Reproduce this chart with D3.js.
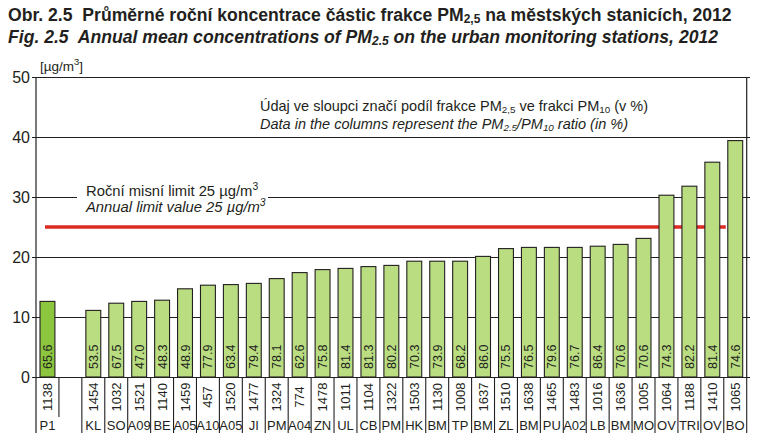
<!DOCTYPE html>
<html><head><meta charset="utf-8">
<script src="https://cdn.jsdelivr.net/npm/d3@7"></script>
<style>
html,body{margin:0;padding:0;background:#fff;}
svg{display:block;font-family:"Liberation Sans",Arial,sans-serif;}
text{white-space:pre;}
</style></head>
<body><svg id="c" width="766" height="440"></svg>
<script>
// ---- data ----
const stationCodes = ["P1","","KL","SO","A09","BE","A05","A10","A05","JI","PM","A04","ZN","UL","CB","PM","HK","BM","TP","BM","ZL","BM","PU","A02","LB","BM","MO","OV","TRI","OV","BO"];
const stationIds = ["1138","","1454","1032","1521","1140","1459","457","1520","1477","1324","774","1478","1011","1104","1322","1503","1130","1008","1637","1510","1638","1465","1483","1016","1636","1005","1064","1188","1410","1065"];
const pm25Values = [12.6,null,11.1,12.3,12.6,12.8,14.7,15.3,15.4,15.6,16.4,17.4,17.9,18.1,18.4,18.6,19.3,19.3,19.3,20.1,21.4,21.6,21.6,21.6,21.8,22.1,23.1,30.3,31.8,35.8,39.4];
const ratioLabels = ["65.6","","53.5","67.5","47.0","48.3","48.9","77.9","63.4","79.4","78.1","62.6","75.8","81.4","81.3","80.2","70.3","73.9","68.2","86.0","75.5","76.5","79.6","76.7","86.4","70.6","70.6","74.3","82.2","81.4","74.6"];
const yTicks = [0,10,20,30,40,50];
const limitValue = 25;

// ---- layout ----
const svg = d3.select("#c");
const L = 36, R = 746.7, T = 77, B = 377;
const x = d3.scaleBand().domain(d3.range(stationCodes.length)).range([L, R]).paddingInner(0.35).paddingOuter(0.175);
const y = d3.scaleLinear().domain([0, 50]).range([B, T]);
const step = x.step();
const ink = "#231f20";

// gridlines + left ticks
svg.append("g").selectAll("line").data(yTicks).join("line")
  .attr("x1", L - 4).attr("x2", R + 3)
  .attr("y1", d => y(d)).attr("y2", d => y(d))
  .attr("stroke", ink).attr("stroke-width", 1).attr("shape-rendering","crispEdges");

// y tick labels
svg.append("g").selectAll("text").data(yTicks).join("text")
  .attr("x", 30).attr("y", d => y(d) + 5.5)
  .attr("text-anchor", "end").attr("font-size", 16).attr("fill", ink)
  .text(d => d);

// white box for the limit annotation (gap in gridline)
svg.append("rect").attr("x", 77).attr("y", 182).attr("width", 191).attr("height", 34).attr("fill", "#fff");

// limit line
const lineX1 = x(0) + 5, lineX2 = x(stationCodes.length - 1) - 2;
svg.append("line")
  .attr("x1", lineX1).attr("x2", lineX2)
  .attr("y1", y(limitValue)).attr("y2", y(limitValue))
  .attr("stroke", "#dc2a22").attr("stroke-width", 3.5);

// bars
const idx = d3.range(stationCodes.length).filter(i => pm25Values[i] != null);
svg.append("g").selectAll("rect").data(idx).join("rect")
  .attr("x", i => x(i)).attr("width", x.bandwidth())
  .attr("y", i => y(pm25Values[i])).attr("height", i => y(0) - y(pm25Values[i]))
  .attr("fill", i => i === 0 ? "#8cc63e" : "#b9dd80")
  .attr("stroke", ink).attr("stroke-width", 1.1);

// ratio labels inside bars
svg.append("g").selectAll("text").data(idx).join("text")
  .attr("transform", i => `translate(${x(i) + x.bandwidth()/2 + 4.5},${B - 8}) rotate(-90)`)
  .attr("font-size", 12.5).attr("fill", ink)
  .text(i => ratioLabels[i]);

// axis base & right border
svg.append("line").attr("x1", L).attr("x2", L).attr("y1", T).attr("y2", 433).attr("stroke", ink).attr("stroke-width", 1.2);
svg.append("line").attr("x1", R).attr("x2", R).attr("y1", T).attr("y2", B).attr("stroke", ink).attr("stroke-width", 1.2);

// category separators
const bounds = d3.range(1, stationCodes.length + 1);
svg.append("g").selectAll("line").data(bounds).join("line")
  .attr("x1", k => L + k * step).attr("x2", k => L + k * step)
  .attr("y1", B).attr("y2", k => k === 1 ? 417 : 433)
  .attr("stroke", ink).attr("stroke-width", 1.1);

// station ids (rotated)
svg.append("g").selectAll("text").data(idx).join("text")
  .attr("transform", i => `translate(${x(i) + x.bandwidth()/2 + 4.5},397) rotate(-90)`)
  .attr("text-anchor", "middle").attr("font-size", 13).attr("fill", ink)
  .text(i => stationIds[i]);

// station codes
svg.append("g").selectAll("text").data(idx).join("text")
  .attr("x", i => x(i) + x.bandwidth()/2).attr("y", 430)
  .attr("text-anchor", "middle").attr("font-size", 13).attr("fill", ink)
  .text(i => stationCodes[i]);

// ---- texts ----
function rich(parent, xx, yy, parts, attrs) {
  const t = parent.append("text").attr("x", xx).attr("y", yy).attr("fill", ink);
  Object.entries(attrs).forEach(([k, v]) => t.attr(k, v));
  parts.forEach(p => {
    const s = t.append("tspan").text(p[0]);
    if (p[1] === "sub") s.attr("font-size", "68%").attr("dy", 2);
    if (p[1] === "sup") s.attr("font-size", "70%").attr("dy", -6);
    if (p[1] === "base") s.attr("dy", p[2]);
  });
  return t;
}
rich(svg, 8, 21, [["Obr. 2.5  Průměrné roční koncentrace částic frakce PM"],["2,5","sub"],[" na městských stanicích, 2012","base",-2]], {"font-size": 17.6, "font-weight": "bold"});
rich(svg, 8, 43, [["Fig. 2.5  Annual mean concentrations of PM"],["2.5","sub"],[" on the urban monitoring stations, 2012","base",-2]], {"font-size": 17.6, "font-weight": "bold", "font-style": "italic"});
rich(svg, 40, 71, [["[µg/m"],["3","sup"],["]","base",6]], {"font-size": 13.5});
rich(svg, 86, 195.5, [["Roční misní limit 25 µg/m"],["3","sup"]], {"font-size": 14.8});
rich(svg, 86, 212, [["Annual limit value 25 µg/m"],["3","sup"]], {"font-size": 14.8, "font-style": "italic"});
rich(svg, 260, 111, [["Údaj ve sloupci značí podíl frakce PM"],["2,5","sub"],[" ve frakci PM","base",-2],["10","sub"],[" (v %)","base",-2]], {"font-size": 14.5});
rich(svg, 260, 129, [["Data in the columns represent the PM"],["2.5","sub"],["/PM","base",-2],["10","sub"],[" ratio (in %)","base",-2]], {"font-size": 14.5, "font-style": "italic"});
</script></body></html>
